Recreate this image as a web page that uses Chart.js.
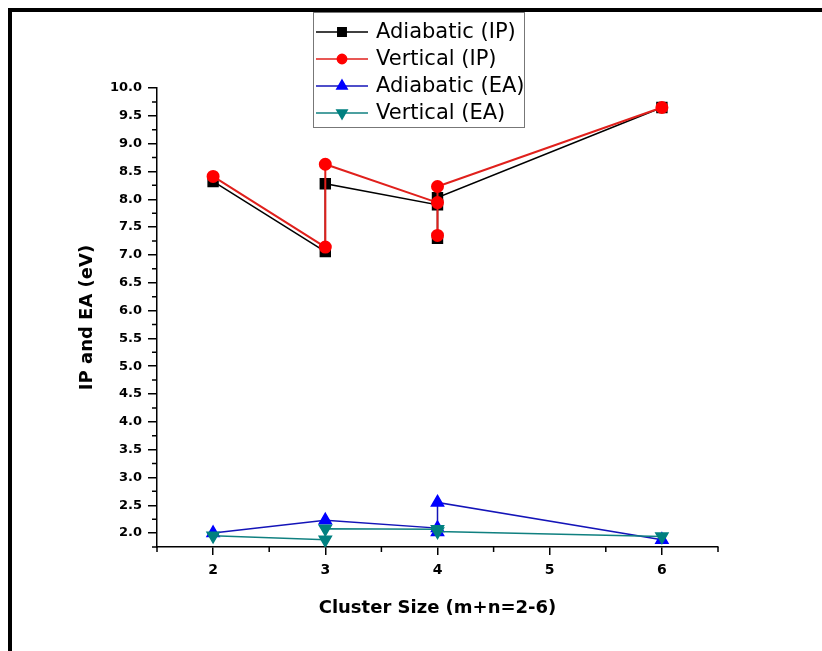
<!DOCTYPE html>
<html>
<head>
<meta charset="utf-8">
<script src="https://cdn.jsdelivr.net/npm/chart.js@4.4.0/dist/chart.umd.min.js"></script>
<style>
  html, body { margin: 0; padding: 0; background: #fff; }
  #wrap { position: relative; width: 822px; height: 651px; overflow: hidden; }
  #frame { position: absolute; left: 8px; top: 8px; right: -10px; bottom: -10px;
           border-top: 4px solid #000; border-left: 4px solid #000; pointer-events: none; }
  canvas { position: absolute; left: 0; top: 0; }
</style>
</head>
<body>
<div id="wrap">
  <canvas id="chart" width="822" height="651"></canvas>
  <div id="frame"></div>
</div>
<script>
// Values
const xTicks = [2, 3, 4, 5, 6];
const yTicks = [2.0, 2.5, 3.0, 3.5, 4.0, 4.5, 5.0, 5.5, 6.0, 6.5, 7.0, 7.5, 8.0, 8.5, 9.0, 9.5, 10.0];

const adiaIpX = [2, 3, 3, 4, 4, 4, 6];
const adiaIpY = [8.32, 7.06, 8.28, 7.90, 7.30, 8.03, 9.65];

const vertIpX = [2, 3, 3, 4, 4, 4, 6];
const vertIpY = [8.41, 7.14, 8.63, 7.94, 7.35, 8.23, 9.65];

const adiaEaX = [2, 3, 4, 4, 4, 6];
const adiaEaY = [2.00, 2.23, 2.09, 2.02, 2.55, 1.88];

const vertEaX = [2, 3, 3, 4, 4, 6];
const vertEaY = [1.95, 1.88, 2.08, 2.07, 2.03, 1.94];

const FONT = '"DejaVu Sans", Arial, sans-serif';

// minor ticks halfway between the major ones
const xMinor = [1.5].concat(xTicks.map(v => v + 0.5));
const yMinor = [1.75].concat(yTicks.slice(0, -1).map(v => v + 0.25));

function pts(xs, ys) {
  return xs.map((x, i) => ({ x: x, y: ys[i] }));
}

const decorations = {
  id: 'decorations',
  afterDraw(chart) {
    const ctx = chart.ctx;
    const xs = chart.scales.x, ys = chart.scales.y;
    const { left, bottom } = chart.chartArea;
    ctx.save();
    ctx.strokeStyle = '#000';
    ctx.lineWidth = 1.5;
    ctx.beginPath();
    xMinor.forEach(v => {
      const px = xs.getPixelForValue(v);
      ctx.moveTo(px, bottom); ctx.lineTo(px, bottom + 5);
    });
    yMinor.forEach(v => {
      const py = ys.getPixelForValue(v);
      ctx.moveTo(left, py); ctx.lineTo(left - 5, py);
    });
    ctx.stroke();

    // legend box
    const bx = 313, by = 12, bw = 211, bh = 115;
    ctx.fillStyle = '#fff';
    ctx.fillRect(bx, by, bw, bh);
    ctx.strokeStyle = '#777';
    ctx.lineWidth = 1;
    ctx.strokeRect(bx + 0.5, by + 0.5, bw, bh);
    ctx.font = '21px ' + FONT;
    ctx.textBaseline = 'middle';
    ctx.textAlign = 'left';
    chart.data.datasets.forEach((ds, i) => {
      const y = 32 + i * 27;
      ctx.strokeStyle = ds.borderColor;
      ctx.lineWidth = 1.5;
      ctx.beginPath();
      ctx.moveTo(316, y); ctx.lineTo(368, y);
      ctx.stroke();
      ctx.fillStyle = ds.pointBackgroundColor;
      ctx.strokeStyle = ds.pointBackgroundColor;
      Chart.helpers.drawPoint(ctx, {
        pointStyle: ds.pointStyle,
        rotation: ds.pointRotation || 0,
        radius: ds.pointRadius * 0.85,
        borderWidth: 1
      }, 342, y);
      ctx.fillStyle = '#000';
      ctx.fillText(ds.label, 376, y + 1);
    });
    ctx.restore();
  }
};

new Chart(document.getElementById('chart'), {
  type: 'scatter',
  data: {
    datasets: [
      {
        label: 'Adiabatic (IP)',
        data: pts(adiaIpX, adiaIpY),
        showLine: true, borderColor: '#000000', borderWidth: 1.5,
        pointStyle: 'rect', pointRadius: 7,
        pointBackgroundColor: '#000000', pointBorderColor: '#000000',
        order: 4
      },
      {
        label: 'Vertical (IP)',
        data: pts(vertIpX, vertIpY),
        showLine: true, borderColor: '#e0201c', borderWidth: 2,
        pointStyle: 'circle', pointRadius: 5.5,
        pointBackgroundColor: '#ff0000', pointBorderColor: '#ff0000',
        order: 3
      },
      {
        label: 'Adiabatic (EA)',
        data: pts(adiaEaX, adiaEaY),
        showLine: true, borderColor: '#1414b8', borderWidth: 1.5,
        pointStyle: 'triangle', pointRadius: 7,
        pointBackgroundColor: '#0000ff', pointBorderColor: '#0000ff',
        order: 2
      },
      {
        label: 'Vertical (EA)',
        data: pts(vertEaX, vertEaY),
        showLine: true, borderColor: '#108080', borderWidth: 1.5,
        pointStyle: 'triangle', pointRotation: 180, pointRadius: 7,
        pointBackgroundColor: '#008080', pointBorderColor: '#008080',
        order: 1
      }
    ]
  },
  options: {
    responsive: false,
    animation: false,
    devicePixelRatio: 1,
    layout: { padding: { top: 88, right: 104, left: 0, bottom: 0 } },
    elements: { line: { tension: 0 } },
    plugins: { legend: { display: false }, tooltip: { enabled: false } },
    scales: {
      x: {
        type: 'linear',
        min: 1.5, max: 6.5,
        afterBuildTicks: (s) => { s.ticks = xTicks.map(v => ({ value: v })); },
        afterFit: (s) => { s.height = 651 - 547; },
        grid: { display: true, drawOnChartArea: false, drawTicks: true, tickLength: 8, color: '#000', lineWidth: 1.5 },
        border: { display: true, color: '#000', width: 1.5 },
        ticks: {
          color: '#000', padding: 7, maxRotation: 0,
          font: { family: FONT, size: 14, weight: 'bold' },
          callback: (v) => String(v)
        },
        title: {
          display: true, text: 'Cluster Size (m+n=2-6)', color: '#000',
          font: { family: FONT, size: 18, weight: 'bold' },
          padding: { top: 0, bottom: 32 }
        }
      },
      y: {
        type: 'linear',
        min: 1.75, max: 10.0,
        afterBuildTicks: (s) => { s.ticks = yTicks.map(v => ({ value: v })); },
        afterFit: (s) => { s.width = 157; },
        grid: { display: true, drawOnChartArea: false, drawTicks: true, tickLength: 9, color: '#000', lineWidth: 1.5 },
        border: { display: true, color: '#000', width: 1.5 },
        ticks: {
          color: '#000', padding: 6,
          font: { family: FONT, size: 13, weight: 'bold' },
          callback: (v) => Number(v).toFixed(1)
        },
        title: {
          display: true, text: 'IP and EA (eV)', color: '#000',
          font: { family: FONT, size: 18, weight: 'bold' },
          padding: { top: 77, bottom: 0 }
        }
      }
    }
  },
  plugins: [decorations]
});
</script>
</body>
</html>
